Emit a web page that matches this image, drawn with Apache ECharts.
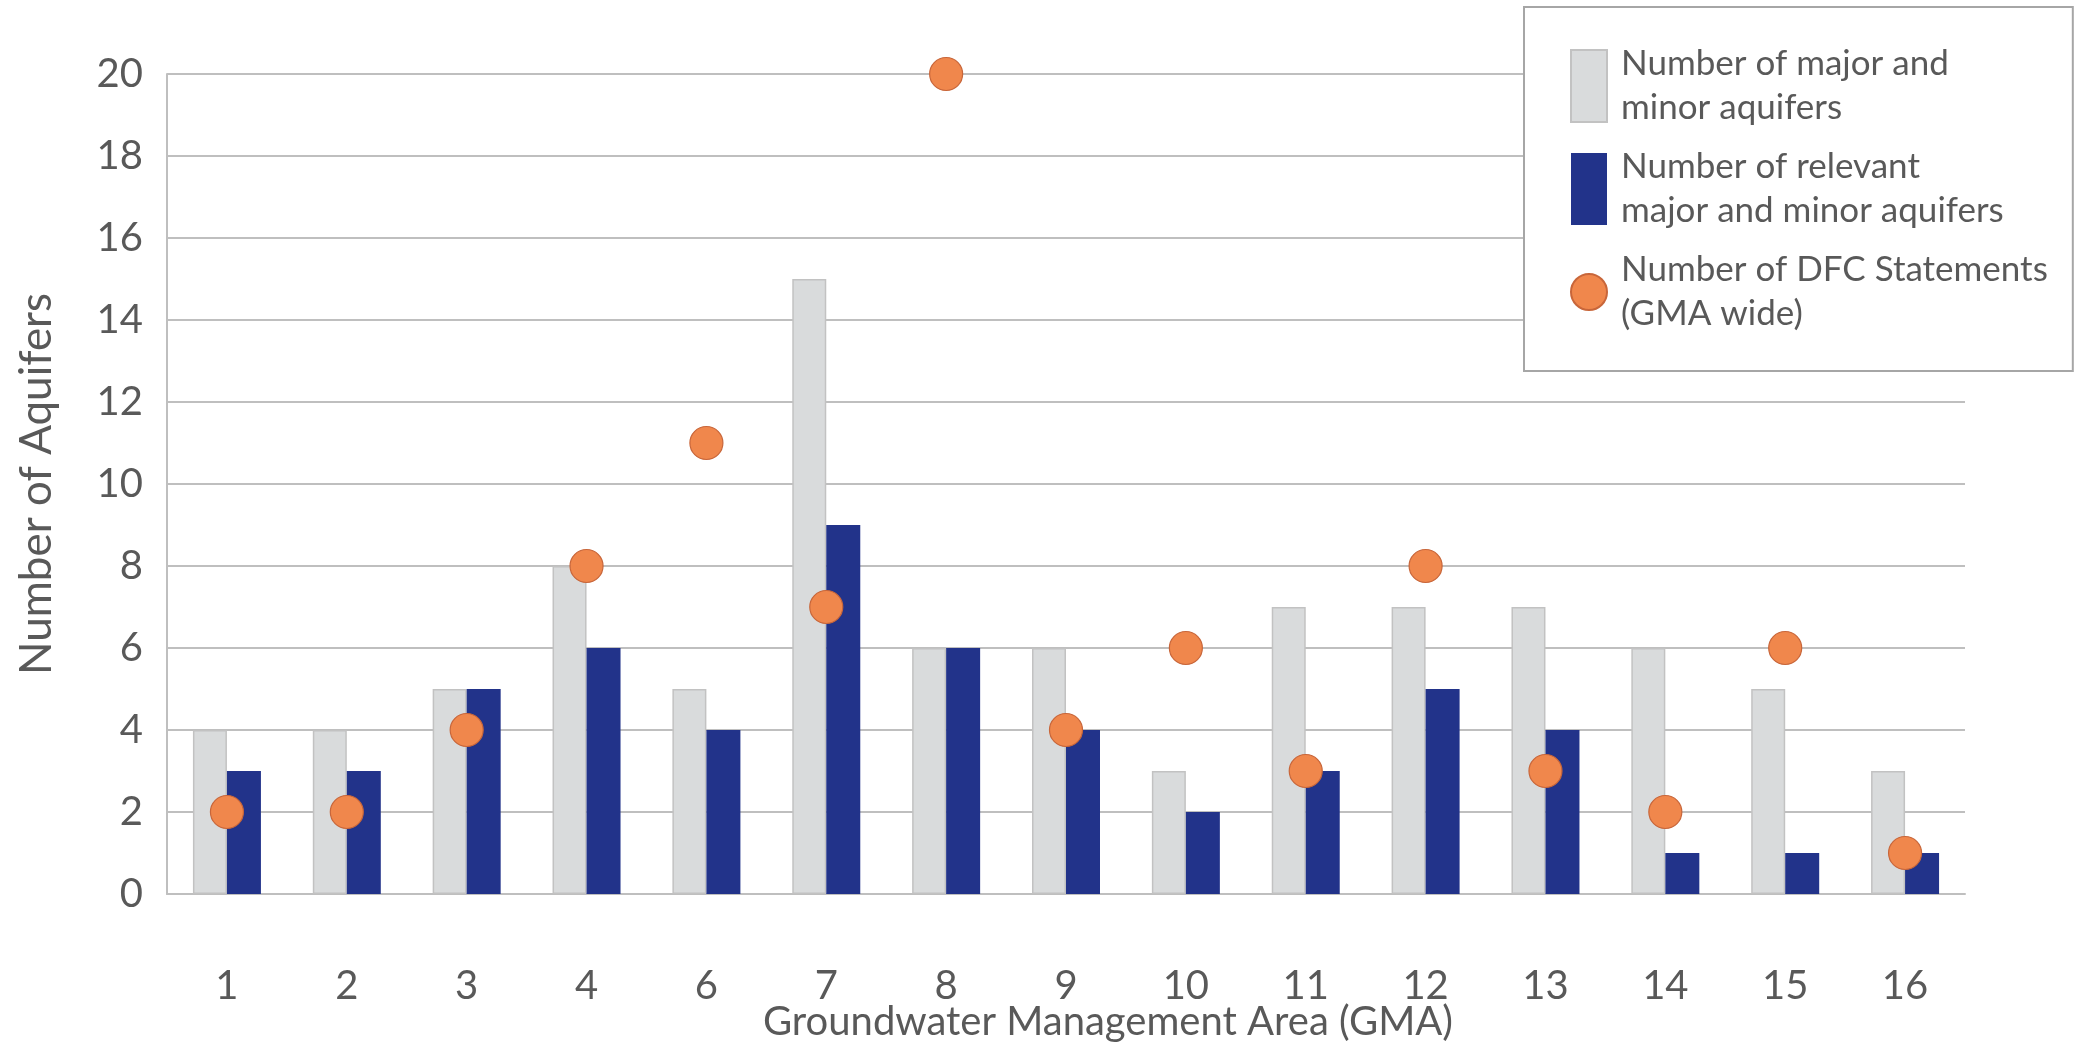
<!DOCTYPE html>
<html>
<head>
<meta charset="utf-8">
<script src="https://cdn.jsdelivr.net/npm/echarts@6/dist/echarts.min.js"></script>
<style>
html,body{margin:0;padding:0;background:#fff;}
#c{width:2074px;height:1045px;}
</style>
</head>
<body>
<div id="c"></div>
<script>
const categories = ['1','2','3','4','6','7','8','9','10','11','12','13','14','15','16'];
const majorMinor = [4,4,5,8,5,15,6,6,3,7,7,7,6,5,3];
const relevant = [3,3,5,6,4,9,6,4,2,3,5,4,1,1,1];
const dfcStatements = [2,2,4,8,11,7,20,4,6,3,8,3,2,6,1];
const yTicks = [0,2,4,6,8,10,12,14,16,18,20];

const FONT = 'Lato';
const TXT = '#595959';
const chart = echarts.init(document.getElementById('c'));
chart.setOption({
  animation: false,
  backgroundColor: '#ffffff',
  textStyle: { fontFamily: FONT },
  grid: { left: 167, right: 109, top: 74, bottom: 151, containLabel: false, outerBoundsMode: 'none' },
  legend: {
    orient: 'vertical',
    left: 1524,
    top: 7,
    padding: [35, 25, 35, 46],
    backgroundColor: '#ffffff',
    borderColor: '#a6a6a6',
    borderWidth: 2,
    itemWidth: 36,
    itemHeight: 72,
    itemGap: 15,
    selectedMode: false,
    textStyle: { fontFamily: FONT, fontSize: 35, color: TXT, lineHeight: 44, padding: [0, 0, 0, 9] },
    data: [
      { name: 'Number of major and\nminor aquifers', icon: 'rect' },
      { name: 'Number of relevant\nmajor and minor aquifers', icon: 'rect' },
      { name: 'Number of DFC Statements\n(GMA wide)', icon: 'circle' }
    ]
  },
  xAxis: {
    type: 'category',
    data: categories,
    name: 'Groundwater Management Area (GMA)',
    nameLocation: 'middle',
    nameGap: 108,
    nameMoveOverlap: false,
    nameTextStyle: { fontFamily: FONT, fontSize: 40, color: TXT, padding: [0, 0, 0, 84] },
    axisLine: { lineStyle: { color: '#bfbfbf', width: 2 } },
    axisTick: { show: false },
    axisLabel: { fontFamily: FONT, fontSize: 40, color: TXT, margin: 72 }
  },
  yAxis: {
    type: 'value',
    min: 0, max: 20, interval: 2,
    name: 'Number of Aquifers',
    nameLocation: 'middle',
    nameGap: 108,
    nameMoveOverlap: false,
    nameTextStyle: { fontFamily: FONT, fontSize: 44, color: TXT },
    axisLine: { show: true, lineStyle: { color: '#bfbfbf', width: 2 } },
    axisTick: { show: false },
    axisLabel: { fontFamily: FONT, fontSize: 40, color: TXT, margin: 24,
      formatter: v => yTicks.includes(v) ? String(v) : '' },
    splitLine: { lineStyle: { color: '#bfbfbf', width: 2 } }
  },
  series: [
    {
      name: 'Number of major and\nminor aquifers',
      type: 'bar',
      data: majorMinor,
      barWidth: 34,
      barGap: '0%',
      itemStyle: { color: '#d9dbdc', borderColor: '#c2c2c2', borderWidth: 1.5 }
    },
    {
      name: 'Number of relevant\nmajor and minor aquifers',
      type: 'bar',
      data: relevant,
      barWidth: 34,
      barGap: '0%',
      itemStyle: { color: '#22338a' }
    },
    {
      name: 'Number of DFC Statements\n(GMA wide)',
      type: 'scatter',
      data: dfcStatements,
      symbol: 'circle',
      symbolSize: 33,
      z: 5,
      itemStyle: { color: '#f0874c', borderColor: '#c8663a', borderWidth: 1.2, opacity: 1 }
    }
  ]
});
</script>
</body>
</html>
